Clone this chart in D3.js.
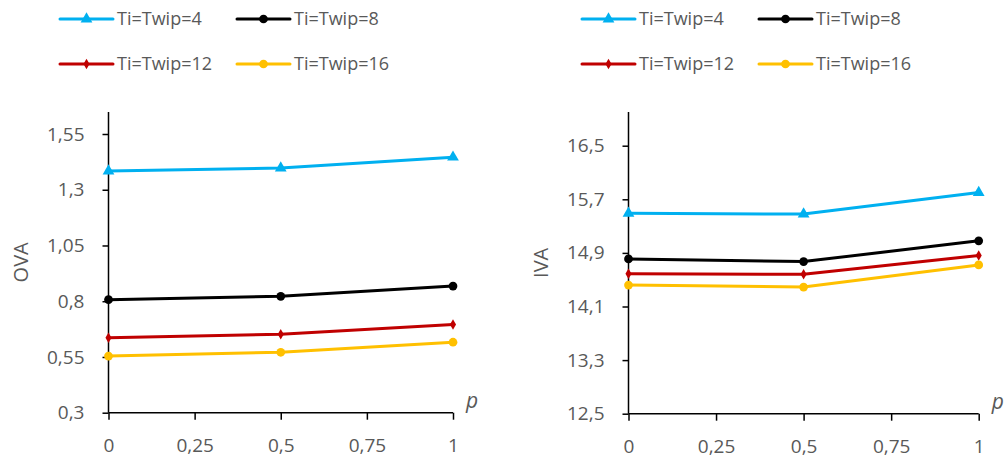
<!DOCTYPE html>
<html><head><meta charset="utf-8">
<script src="https://cdn.jsdelivr.net/npm/d3@7"></script>
<style>body{margin:0;background:#fff}svg{display:block}text{font-family:"Open Sans",Calibri,sans-serif;fill:#595959}</style>
</head><body><svg id="c" width="1008" height="458"></svg>
<script>
const pValues = [0, 0.5, 1];
const xTicks = [0, 0.25, 0.5, 0.75, 1];
const seriesNames = ["Ti=Twip=4", "Ti=Twip=8", "Ti=Twip=12", "Ti=Twip=16"];
const seriesColors = ["#00B0F0", "#000000", "#C00000", "#FFC000"];
const seriesMarkers = ["triangle", "circle", "diamond", "circle"];
const ova4 = [1.384, 1.397, 1.446];
const ova8 = [0.807, 0.822, 0.868];
const ova12 = [0.636, 0.652, 0.696];
const ova16 = [0.554, 0.571, 0.616];
const iva4 = [15.49, 15.48, 15.80];
const iva8 = [14.81, 14.77, 15.08];
const iva12 = [14.59, 14.58, 14.86];
const iva16 = [14.42, 14.39, 14.72];
const ovaTicks = [0.3, 0.55, 0.8, 1.05, 1.3, 1.55];
const ivaTicks = [12.5, 13.3, 14.1, 14.9, 15.7, 16.5];

const svg = d3.select("#c");
const fmt = v => String(v).replace(".", ",");

function markerPath(type, size) {
  const sym = type === "triangle" ? d3.symbolTriangle : type === "diamond" ? d3.symbolDiamond : d3.symbolCircle;
  return d3.symbol().type(sym).size(size)();
}
const markerSizes = {triangle: 60, circle: 60, diamond: 32};

function legend(ox) {
  const g = svg.append("g").attr("transform", `translate(${ox},0)`);
  const pos = [[60, 19], [237, 19], [60, 64], [237, 64]];
  seriesNames.forEach((n, i) => {
    const [x, y] = pos[i];
    g.append("line").attr("x1", x).attr("x2", x + 53).attr("y1", y).attr("y2", y)
      .attr("stroke", seriesColors[i]).attr("stroke-width", 3).attr("stroke-linecap", "round");
    g.append("path").attr("d", markerPath(seriesMarkers[i], markerSizes[seriesMarkers[i]]))
      .attr("transform", `translate(${x + 26.5},${y})`).attr("fill", seriesColors[i]);
    g.append("text").attr("x", x + 57).attr("y", y).attr("dy", "0.35em")
      .style("font-size", "18px").text(n);
  });
}

function chart(o) {
  const x = d3.scaleLinear().domain([0, 1]).range([o.x0, o.x1]);
  const y = d3.scaleLinear().domain([o.ticks[0], o.ticks[o.ticks.length - 1]]).range([o.yb, o.yt]);
  const g = svg.append("g");
  const ya = g.append("g").attr("transform", `translate(${o.x0},0)`)
    .call(d3.axisLeft(y).tickValues(o.ticks).tickFormat(fmt).tickSize(6).tickPadding(18));
  const xa = g.append("g").attr("transform", `translate(0,${o.yb})`)
    .call(d3.axisBottom(x).tickValues(xTicks).tickFormat(fmt).tickSize(7).tickPadding(19));
  [ya, xa].forEach(a => {
    a.attr("font-size", null).attr("font-family", null);
    a.select(".domain").remove();
    a.selectAll(".tick line").attr("stroke", "#000").attr("stroke-width", 1.5);
    a.selectAll("text").style("font-size", "19px").style("fill", "#595959").style("font-family", '"Open Sans",sans-serif');
  });
  g.append("line").attr("x1", o.x0).attr("x2", o.x0).attr("y1", o.ytop).attr("y2", o.yb).attr("stroke", "#000").attr("stroke-width", 1.5);
  g.append("line").attr("x1", o.x0).attr("x2", o.x1).attr("y1", o.yb).attr("y2", o.yb).attr("stroke", "#000").attr("stroke-width", 1.5);
  g.append("text").attr("transform", `translate(${o.x0 - 88},${(o.ytop + o.yb) / 2}) rotate(-90)`)
    .attr("text-anchor", "middle").attr("dy", "0.35em").style("font-size", "20px").text(o.label);
  g.append("text").attr("x", o.x1 + 13).attr("y", o.yb - 5).style("font-size", "21px")
    .style("font-style", "italic").text("p");
  const line = d3.line().x((d, i) => x(pValues[i])).y(d => y(d));
  o.data.forEach((vals, si) => {
    g.append("path").datum(vals).attr("d", line).attr("fill", "none")
      .attr("stroke", seriesColors[si]).attr("stroke-width", 3).attr("stroke-linejoin", "round");
    g.selectAll(null).data(vals).enter().append("path")
      .attr("d", markerPath(seriesMarkers[si], markerSizes[seriesMarkers[si]]))
      .attr("transform", (d, i) => `translate(${x(pValues[i])},${y(d)})`)
      .attr("fill", seriesColors[si]);
  });
}

legend(0);
legend(522);
chart({x0: 108.5, x1: 453, yb: 412.7, yt: 134, ytop: 112, ticks: ovaTicks, label: "OVA",
  data: [ova4, ova8, ova12, ova16]});
chart({x0: 628.5, x1: 978.7, yb: 413.7, yt: 145.7, ytop: 112, ticks: ivaTicks, label: "IVA",
  data: [iva4, iva8, iva12, iva16]});
</script></body></html>
